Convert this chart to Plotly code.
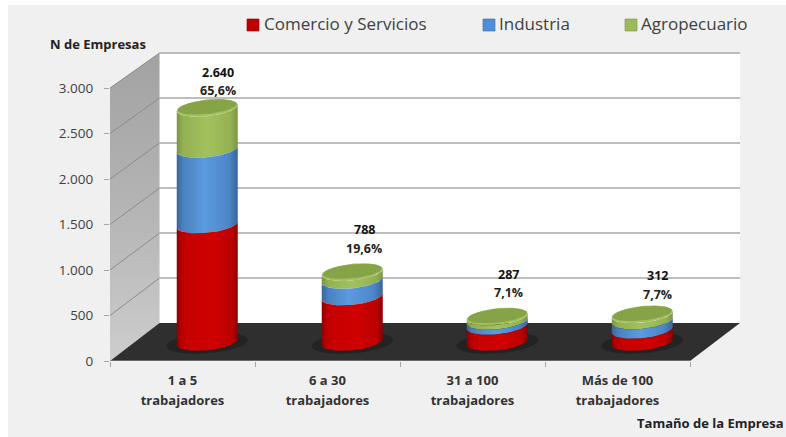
import numpy as np
import plotly.graph_objects as go

# ---------- data ----------
categorias = ["1 a 5", "6 a 30", "31 a 100", "Más de 100"]
comercio = [1325, 513, 180, 135]
industria = [851, 186, 57, 107]
agropecuario = [464, 89, 50, 70]
totales = [2640, 788, 287, 312]
porcentajes = ["65,6%", "19,6%", "7,1%", "7,7%"]
ticks_y = [0, 500, 1000, 1500, 2000, 2500, 3000]
ticks_y_txt = ["0", "500", "1.000", "1.500", "2.000", "2.500", "3.000"]

# ---------- geometry ----------
W, H = 786, 437
L, R, T, B = 110, 46, 50, 76
PX_X = 145.0
PX_Y = 273 / 3000
DX = 49.5 / PX_X
DY = 38 / PX_Y
BACK = 270 / 273
BAR = 0.975
XMIN = -0.5
XMAX = XMIN + (W - L - R) / PX_X
YMAX = (H - B - T) / PX_Y
A = 30.5 / PX_X
E_B = 8.3 / PX_Y
E_S = 3 / PX_Y

def pxx(p): return (p - L) / (W - L - R)
def pxy(p): return ((H - B) - p) / (H - B - T)

RED = [[0, "#8a0000"], [0.07, "#b80000"], [0.2, "#c80000"], [0.6, "#d00000"], [0.9, "#bc0000"], [1, "#8a0000"]]
BLUE = [[0, "#38659b"], [0.1, "#4a80bf"], [0.45, "#5b9be0"], [0.85, "#4d86c8"], [1, "#38659b"]]
GREEN = [[0, "#7c9645"], [0.1, "#93b052"], [0.5, "#a3c25e"], [0.88, "#94b153"], [1, "#7c9645"]]

fig = go.Figure()

def poly(x, y, color=None, grad=None, gtype="horizontal"):
    kw = dict(x=x, y=y, mode="lines", line=dict(width=0), fill="toself",
              hoverinfo="skip", showlegend=False)
    if grad is not None:
        kw["fillgradient"] = dict(type=gtype, colorscale=grad)
    else:
        kw["fillcolor"] = color
    fig.add_trace(go.Scatter(**kw))

# walls and floor
xb0, xb1 = XMIN + DX, XMAX
poly([xb0, xb1, xb1, xb0], [DY, DY, DY + 3000 * BACK, DY + 3000 * BACK], color="#ffffff")
poly([XMIN, xb0, xb0, XMIN], [0, DY, DY + 3000 * BACK, 3000],
     grad=[[0, "#cdcdcd"], [0.5, "#b4b4b4"], [1, "#a2a2a2"]], gtype="vertical")
poly([XMIN, XMIN + 4, xb1, xb0], [0, 0, DY, DY], color="#2f2f2f")

# grid on back wall and side wall
gx, gy, sx_, sy_ = [], [], [], []
for v in ticks_y[1:]:
    sx_ += [XMIN, xb0, None]
    sy_ += [v, DY + v * BACK, None]
    gx += [xb0, xb1, None]
    gy += [DY + v * BACK, DY + v * BACK, None]
fig.add_trace(go.Scatter(x=gx, y=gy, mode="lines", line=dict(color="#a8a8a8", width=1.6),
                         hoverinfo="skip", showlegend=False))
fig.add_trace(go.Scatter(x=sx_, y=sy_, mode="lines", line=dict(color="#8c8c8c", width=1),
                         hoverinfo="skip", showlegend=False))
# axis line
fig.add_trace(go.Scatter(x=[XMIN, XMIN + 4], y=[0, 0], mode="lines",
                         line=dict(color="#a6a6a6", width=1.2), hoverinfo="skip", showlegend=False))

# cylinders
def ell(xc, yc, a, b, s, t):
    return xc + a * np.cos(t), yc + b * np.sin(t) + s * np.cos(t)

front = np.linspace(np.pi, 2 * np.pi, 40)
full = np.linspace(0, 2 * np.pi, 80)

for i in range(4):
    xc = i + DX / 2
    y0 = DY / 2
    # floor shadow
    sx, sy = ell(xc, y0 - 1 / PX_Y, A * 1.34, E_B * 1.25, E_S, full)
    poly(sx.tolist(), sy.tolist(), color="#232323")
    c1 = comercio[i]
    c2 = c1 + industria[i]
    c3 = c2 + agropecuario[i]
    for lo, hi, cs in [(c2, c3, GREEN), (c1, c2, BLUE), (0, c1, RED)]:
        xt, yt = ell(xc, y0 + hi * BAR, A, E_B, E_S, front)
        xl, yl = ell(xc, y0 + lo * BAR, A, E_B, E_S, front)
        poly(np.r_[xt, xl[::-1]].tolist(), np.r_[yt, yl[::-1]].tolist(), grad=cs)
    xr, yr = ell(xc, y0 + c3 * BAR, A, E_B, E_S, full)
    poly(xr.tolist(), yr.tolist(), color="#a2c05f")
    xr, yr = ell(xc, y0 + c3 * BAR + 0.8 / PX_Y, A * 0.97, E_B * 0.84, E_S, full)
    poly(xr.tolist(), yr.tolist(), color="#87a348")

# legend entries (text from the legend, square swatches placed beside it)
nombres = ["Comercio y Servicios", "Industria", "Agropecuario"]
colores = ["#c00000", "#4f8fd8", "#9bbb59"]
bordes = ["#8a0000", "#3a6aa0", "#7c9645"]
leg_x = [224, 459, 601]
cuad_x = [247, 483, 625]
layout_legends = {}
shapes = [dict(type="rect", xref="paper", yref="paper", x0=pxx(8), x1=pxx(W + 5),
               y0=pxy(H + 5), y1=pxy(5), fillcolor="#f0f0f0", line=dict(width=0), layer="below")]
for k, (n, c, lx, qx, bd) in enumerate(zip(nombres, colores, leg_x, cuad_x, bordes)):
    key = "legend" if k == 0 else f"legend{k + 1}"
    fig.add_trace(go.Scatter(x=[0], y=[-1000], mode="markers", name=n,
                             marker=dict(symbol="square", size=1, color="rgba(0,0,0,0)"),
                             legend=key, showlegend=True, hoverinfo="skip"))
    layout_legends[key] = dict(xref="container", yref="container", x=lx / W, y=1 - 6 / H,
                               xanchor="left", yanchor="top", bgcolor="rgba(0,0,0,0)",
                               font=dict(family="Open Sans", size=17, color="#404040"),
                               itemwidth=30, borderwidth=0)
    shapes.append(dict(type="rect", xref="paper", yref="paper", x0=pxx(qx), x1=pxx(qx + 12),
                       y0=pxy(31), y1=pxy(19), fillcolor=c, line=dict(width=0.6, color=bd)))

# data labels
annots = []
lab_x = [11, 12, 11, 15]
lab_gap = [17, 24, 24, 20]
for i in range(4):
    xc = i + DX / 2 + lab_x[i] / PX_X
    ytop = DY / 2 + totales[i] * BAR
    txt = f"{totales[i]:,}".replace(",", ".")
    annots.append(dict(x=xc, y=ytop + lab_gap[i] / PX_Y, xref="x", yref="y", showarrow=False,
                       text=f"<b>{txt}</b>", yanchor="middle", yshift=18.5,
                       font=dict(family="Open Sans", size=12.5, color="#111111")))
    annots.append(dict(x=xc, y=ytop + lab_gap[i] / PX_Y, xref="x", yref="y", showarrow=False,
                       text=f"<b>{porcentajes[i]}</b>", yanchor="middle",
                       font=dict(family="Open Sans", size=12.5, color="#222222")))
annots.append(dict(x=pxx(48), y=pxy(44), xref="paper", yref="paper", showarrow=False,
                   text="<b>N de Empresas</b>", xanchor="left", yanchor="middle",
                   font=dict(family="Open Sans", size=13, color="#222222")))
annots.append(dict(x=pxx(635), y=pxy(423), xref="paper", yref="paper", showarrow=False,
                   text="<b>Tamaño de la Empresa</b>", xanchor="left", yanchor="middle",
                   font=dict(family="Open Sans", size=13, color="#222222")))

etiquetas = [f'<span style="font-size:13px"><b>{c}</b></span><br>'
             f'<span style="font-size:13px"><b>trabajadores</b></span>' for c in categorias]

fig.update_layout(
    width=W, height=H, margin=dict(l=L, r=R, t=T, b=B, pad=0, autoexpand=False),
    paper_bgcolor="#ffffff", plot_bgcolor="rgba(0,0,0,0)",
    shapes=shapes, annotations=annots, hovermode=False,
    xaxis=dict(range=[XMIN, XMAX], tickmode="array", tickvals=list(range(4)), ticktext=etiquetas,
               ticks="", showgrid=False, zeroline=False, showline=False, tickangle=0, automargin=False,
               tickfont=dict(family="Open Sans", size=15.4, color="#333333"),
               minor=dict(tickmode="array", tickvals=[-0.5, 0.5, 1.5, 2.5, 3.5], ticks="outside",
                          ticklen=5, tickcolor="#a6a6a6", tickwidth=1, showgrid=False),
               ticklabelstandoff=8),
    yaxis=dict(range=[0, YMAX], tickmode="array", tickvals=ticks_y, ticktext=ticks_y_txt,
               ticks="outside", ticklen=5, tickcolor="#a6a6a6", tickwidth=1, automargin=False,
               showgrid=False, zeroline=False, showline=False, ticklabelstandoff=8,
               tickfont=dict(family="Open Sans", size=13.5, color="#404040")),
    **layout_legends,
)

fig.write_html("out.html", config=dict(displayModeBar=False),
               post_script="document.body.style.margin='0';document.body.style.overflow='hidden';")
